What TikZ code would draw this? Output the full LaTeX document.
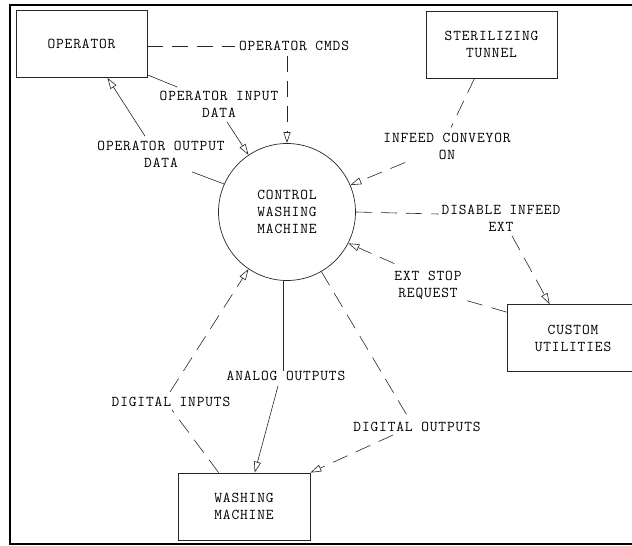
\documentclass[tikz,border=0pt]{standalone}
\usepackage{fontspec}
\newfontfamily\plotfont{Latin Modern Mono}[LetterSpace=5.8]
\usetikzlibrary{arrows.meta,calc}
\tikzset{
  every node/.style={font=\plotfont\fontsize{15}{17}\selectfont, text=black, inner sep=0pt},
  block/.style={draw=black!85, line width=0.7pt, minimum width=131pt, minimum height=67pt, align=center},
  proc/.style={draw=black!85, circle, line width=0.7pt, minimum size=137pt, align=center},
  lbl/.style={align=center},
  flow/.style={line width=0.6pt, draw=black!85},
  dflow/.style={flow, dash pattern=on 16pt off 9pt},
  tip/.style={-{Triangle[open,length=11pt,width=7pt]}},
  frame/.style={line width=2.4pt, draw=black}
}
\begin{document}
\begin{tikzpicture}[x=1pt, y=-1pt]
  \useasboundingbox (0,0) rectangle (632,546);
  \clip (0,0) rectangle (632,546);

  % page frame (open on the right)
  \draw[frame] (632,5) -- (10,5) -- (10,544) -- (632,544);

  % external entities and the process
  \node[block] (op) at (81.5,44) {OPERATOR};
  \node[block] (st) at (491.5,44.5) {STERILIZING\\TUNNEL};
  \node[proc]  (cwm) at (287,212) {CONTROL\\WASHING\\MACHINE};
  \node[block, minimum width=132pt] (cu) at (573,338) {CUSTOM\\UTILITIES};
  \node[block, minimum width=132pt] (wm) at (244,506.5) {WASHING\\MACHINE};

  % flow labels
  \node[lbl] (lcmds)  at (294,46)    {OPERATOR CMDS};
  \node[lbl] (linput) at (219,104.5) {OPERATOR INPUT\\DATA};
  \node[lbl] (lout)   at (161,154.5) {OPERATOR OUTPUT\\DATA};
  \node[lbl] (linf)   at (447,146)   {INFEED CONVEYOR\\ON};
  \node[lbl] (ldis)   at (501,218.5) {DISABLE INFEED\\EXT};
  \node[lbl] (lext)   at (428,285)   {EXT STOP\\REQUEST};
  \node[lbl] (ldin)   at (171,402)   {DIGITAL INPUTS};
  \node[lbl] (lana)   at (286,376)   {ANALOG OUTPUTS};
  \node[lbl] (ldout)  at (417,427)   {DIGITAL OUTPUTS};

  % operator commands
  \draw[dflow] (op.east |- lcmds.west) -- ([xshift=-4pt]lcmds.west);
  \draw[dflow, tip, shorten <=5pt] (lcmds.south -| cwm.north) -- (cwm.north);

  % operator input data
  \draw[flow] ($(op.south east)+(0,-3)$) -- ($(linput.north west)+(18,-4)$);
  \draw[flow, tip] ($(linput.south)+(8,4)$) -- (cwm.124);

  % operator output data
  \draw[flow] (cwm.156) -- ($(lout.south)+(31,4)$);
  \draw[flow, tip] ($(lout.north)+(-16,-5)$) -- ($(op.south)+(26,0)$);

  % infeed conveyor on
  \draw[dflow] ($(st.south)+(-17,0)$) -- ($(linf.north)+(4,-5)$);
  \draw[dflow, tip] ($(linf.south west)+(22,3)$) -- (cwm.23);

  % disable infeed ext
  \draw[dflow] (cwm.east) -- ($(cwm.east -| ldis.west)+(-3,2)$);
  \draw[dflow, tip] ($(ldis.south)+(11,4)$) -- ($(cu.north west)+(43,0)$);

  % ext stop request
  \draw[dflow] ($(cu.north west)+(0,8)$) -- ($(lext.south east)+(1,0)$);
  \draw[dflow, tip] ($(lext.north west)+(0,-7)$) -- (cwm.333);

  % digital inputs
  \draw[dflow] ($(wm.north west)+(41,0)$) -- ($(ldin.south)+(1,3)$);
  \draw[dflow, tip] ($(ldin.north)+(-1,-5)$) -- (cwm.236);

  % analog outputs
  \draw[flow] (cwm.267) -- (cwm.267 |- lana.north);
  \draw[flow, tip] ($(lana.south)+(-8,5)$) -- ($(wm.north west)+(77,0)$);

  % digital outputs
  \draw[dflow] (cwm.300) -- ($(ldout.north)+(-9,-5)$);
  \draw[dflow, tip] ($(ldout.south)+(-24,3)$) -- (wm.north east);
\end{tikzpicture}
\end{document}
